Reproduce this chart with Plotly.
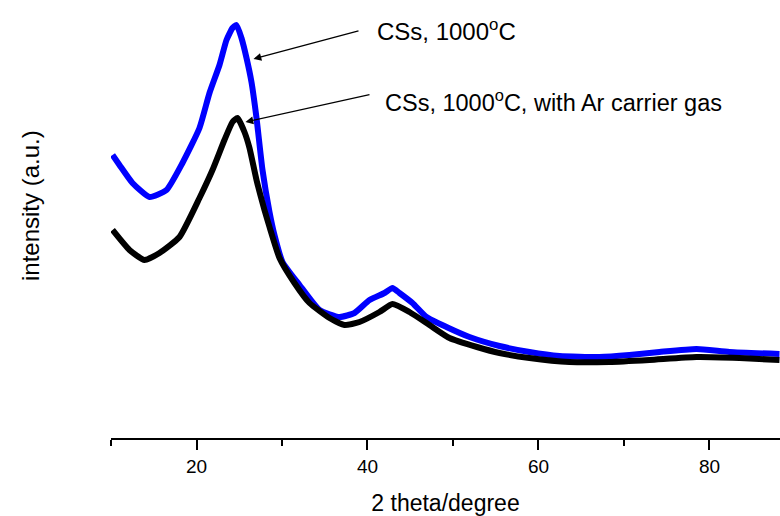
import plotly.graph_objects as go

# Blue: CSs, 1000°C
blue_x = [10.18, 10.99, 12.51, 14.50, 16.49, 18.36, 20.35, 21.52, 22.69, 23.51, 24.21, 24.68,
          25.26, 25.85, 26.43, 27.02, 27.72, 28.54, 29.12, 30.06, 32.05, 34.39, 36.73, 38.48,
          40.24, 41.99, 42.92, 43.74, 45.26, 46.90, 49.24, 51.93, 55.44, 58.95, 62.46, 67.13,
          70.64, 74.15, 78.48, 82.34, 88.19]
blue_y = [283, 273, 255, 241, 248, 275, 310, 345, 373, 398, 410, 413,
          400, 380, 356, 320, 268, 226, 203, 176, 153, 128, 121, 125,
          138, 145, 150, 145, 135, 121, 111, 101, 92, 86, 82, 81,
          83, 86, 89, 86, 84]

# Black: CSs, 1000°C, with Ar carrier gas
black_x = [10.18, 12.16, 13.92, 15.67, 18.01, 20.35, 21.87, 23.27, 24.21, 24.80, 25.61, 26.20,
           27.02, 27.95, 28.54, 29.71, 31.46, 33.22, 35.56, 37.31, 39.06, 41.40, 42.92, 44.91,
           47.25, 49.59, 52.81, 55.44, 58.95, 63.63, 68.30, 72.98, 78.48, 83.51, 88.19]
black_y = [208, 188, 178, 185, 201, 240, 268, 298, 316, 320, 306, 290,
           258, 228, 211, 180, 155, 135, 120, 113, 116, 126, 134, 126,
           113, 100, 91, 85, 80, 76, 76, 78, 81, 80, 78]

tick_vals = [20, 40, 60, 80]
tick_text = ["20", "40", "60", "80"]
minor_vals = [10, 30, 50, 70]

FONT = "Liberation Sans, Arial, sans-serif"

fig = go.Figure()
fig.add_trace(go.Scatter(x=blue_x, y=blue_y, mode="lines",
                         line=dict(color="#0000ff", width=6, shape="spline", smoothing=0.5),
                         showlegend=False, hoverinfo="skip"))
fig.add_trace(go.Scatter(x=black_x, y=black_y, mode="lines",
                         line=dict(color="#000000", width=6, shape="spline", smoothing=0.5),
                         showlegend=False, hoverinfo="skip"))

fig.update_layout(
    width=780, height=516,
    margin=dict(l=111, r=0, t=0, b=78, autoexpand=False),
    paper_bgcolor="white", plot_bgcolor="white",
    font=dict(family=FONT, color="black"),
    xaxis=dict(range=[10, 88.25], showgrid=False, zeroline=False,
               showline=True, linecolor="black", linewidth=1.5,
               ticks="outside", ticklen=10, tickwidth=1.5, tickcolor="black",
               tickvals=tick_vals, ticktext=tick_text,
               tickfont=dict(size=19, family=FONT),
               minor=dict(tickvals=minor_vals, ticks="outside", ticklen=6,
                          tickwidth=1.5, tickcolor="black"),
               title=dict(text="2 theta/degree", font=dict(size=23, family=FONT), standoff=19)),
    yaxis=dict(range=[0, 438], visible=False),
)

fig.add_annotation(xref="paper", yref="paper", x=(30 - 111) / 669, y=(438 - 206) / 438,
                   text="intensity (a.u.)", textangle=-90, showarrow=False,
                   font=dict(size=24, family=FONT), xanchor="center", yanchor="middle")

# arrows
fig.add_annotation(x=10 + (254 - 111.5) / 8.55, y=438 - 59, ax=362 - 254, ay=30 - 59,
                   axref="pixel", ayref="pixel", showarrow=True, arrowhead=2,
                   arrowsize=1.2, arrowwidth=1.3, arrowcolor="black", text=" ")
fig.add_annotation(x=10 + (246 - 111.5) / 8.55, y=438 - 122, ax=373 - 246, ay=94 - 122,
                   axref="pixel", ayref="pixel", showarrow=True, arrowhead=2,
                   arrowsize=1.2, arrowwidth=1.3, arrowcolor="black", text=" ")

fig.add_annotation(xref="paper", yref="paper", x=(375 - 111) / 669, y=(438 - 30) / 438,
                   text="CSs, 1000<sup>o</sup>C", showarrow=False, xanchor="left",
                   yanchor="middle", font=dict(size=24, family=FONT))
fig.add_annotation(xref="paper", yref="paper", x=(383 - 111) / 669, y=(438 - 101) / 438,
                   text="CSs, 1000<sup>o</sup>C, with Ar carrier gas", showarrow=False,
                   xanchor="left", yanchor="middle", font=dict(size=23.5, family=FONT))

fig.write_html("out.html", config={"displayModeBar": False},
               post_script="document.body.style.margin='0';document.body.style.overflow='hidden';")
